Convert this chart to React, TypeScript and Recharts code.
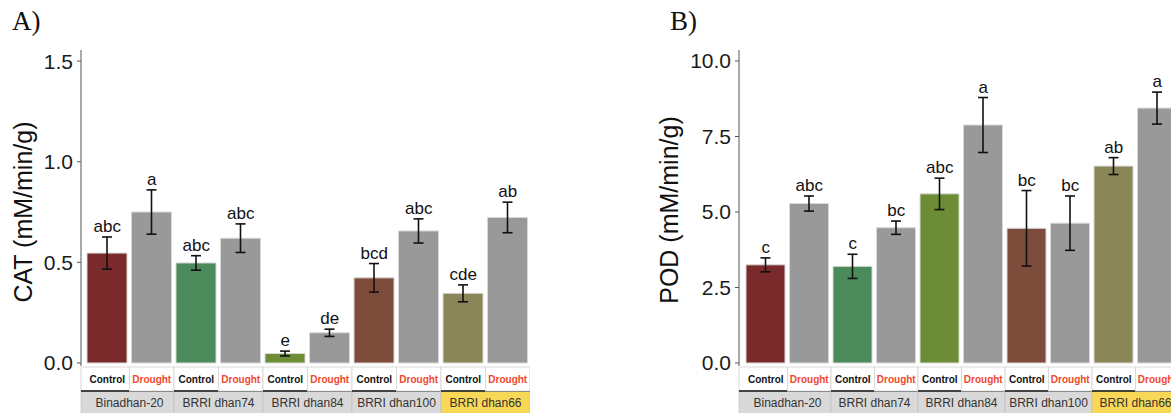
import React from 'react';
import { ComposedChart, Bar, Cell, ErrorBar, Line, LabelList, XAxis, YAxis } from 'recharts';

const genotypes = ['Binadhan-20', 'BRRI dhan74', 'BRRI dhan84', 'BRRI dhan100', 'BRRI dhan66'];
const treatments = ['Control', 'Drought'];

const catMean = [0.546, 0.75, 0.497, 0.62, 0.047, 0.15, 0.423, 0.656, 0.346, 0.723];
const catErr = [0.08, 0.11, 0.036, 0.071, 0.012, 0.018, 0.071, 0.06, 0.042, 0.076];
const catLetters = ['abc', 'a', 'abc', 'abc', 'e', 'de', 'bcd', 'abc', 'cde', 'ab'];

const podMean = [3.25, 5.28, 3.2, 4.48, 5.6, 7.88, 4.46, 4.63, 6.52, 8.44];
const podErr = [0.23, 0.25, 0.4, 0.22, 0.52, 0.91, 1.25, 0.9, 0.28, 0.53];
const podLetters = ['c', 'abc', 'c', 'bc', 'abc', 'a', 'bc', 'bc', 'ab', 'a'];

const catTicks = [0, 0.5, 1, 1.5];
const podTicks = [0, 2.5, 5, 7.5, 10];

const controlColors = ['#7a2a2a', '#4a8a5b', '#6c8d35', '#7e4c3a', '#8a8657'];
const droughtColor = '#999999';

const SANS = '"Liberation Sans", Arial, Helvetica, sans-serif';
const SERIF = '"Liberation Serif", "Times New Roman", serif';

const buildRows = (mean: number[], err: number[], letters: string[]) =>
  genotypes.flatMap((g, gi) =>
    treatments.map((t, ti) => {
      const i = gi * 2 + ti;
      return { key: `${g}-${t}`, genotype: g, treatment: t, mean: mean[i], err: err[i], top: mean[i] + err[i], letter: letters[i] };
    })
  );

const catRows = buildRows(catMean, catErr, catLetters);
const podRows = buildRows(podMean, podErr, podLetters);

const StripTick = (props: any) => {
  const { x, y, index, band, padL } = props;
  const left = x - band / 2 - (index === 0 ? padL : 0);
  const w = band + (index === 0 ? padL : 0);
  const t = treatments[index % 2];
  const g = genotypes[Math.floor(index / 2)];
  return (
    <g>
      <rect x={left} y={y + 1} width={w} height={24} fill="#ffffff" stroke="#d9d9d9" strokeWidth={1} />
      <text x={x} y={y + 17} textAnchor="middle" fontFamily={SANS} fontSize={10} fontWeight="bold" fill={t === 'Control' ? '#111111' : '#f0482e'}>
        {t}
      </text>
      {index % 2 === 0 && (
        <g>
          <rect x={left} y={y + 25} width={w + band} height={30} fill={g === 'BRRI dhan66' ? '#f8d856' : '#d9d9d9'} stroke="#bdbdbd" strokeWidth={0.6} />
          <line x1={left} x2={left + w + band} y1={y + 25} y2={y + 25} stroke="#111111" strokeWidth={1.3} />
          <text x={x + band / 2} y={y + 41} textAnchor="middle" fontFamily={SANS} fontSize={12} fill="#333333">
            {g}
          </text>
        </g>
      )}
    </g>
  );
};

interface PanelProps {
  rows: any[];
  domain: [number, number];
  ticks: number[];
  width: number;
  left: number;
  padL: number;
  barSize: number;
}

const Panel: React.FC<PanelProps> = ({ rows, domain, ticks, width, left, padL, barSize }) => {
  const yAxisW = 81;
  const band = (width - yAxisW - padL) / rows.length;
  return (
    <div style={{ position: 'absolute', left, top: 0 }}>
      <ComposedChart width={width} height={413} data={rows} margin={{ top: 50, right: 0, left: 0, bottom: 0 }}>
        <XAxis
          dataKey="key"
          interval={0}
          height={47}
          tickLine={false}
          axisLine={false}
          tickSize={0}
          tickMargin={0}
          padding={{ left: padL, right: 0 }}
          tick={<StripTick band={band} padL={padL} />}
        />
        <YAxis
          type="number"
          width={yAxisW}
          domain={domain}
          ticks={ticks}
          interval={0}
          allowDataOverflow
          tickSize={4}
          tickMargin={4}
          stroke="#555555"
          tick={{ fill: '#1a1a1a', fontSize: 21, fontFamily: SANS }}
          tickFormatter={(v: number) => v.toFixed(1)}
        />
        <Bar dataKey="mean" barSize={barSize} stroke="#d8d8d8" strokeWidth={1} isAnimationActive={false}>
          {rows.map((r, i) => (
            <Cell key={r.key} fill={i % 2 === 0 ? controlColors[Math.floor(i / 2)] : droughtColor} />
          ))}
          <ErrorBar dataKey="err" width={5} stroke="#111111" strokeWidth={1.6} />
        </Bar>
        <Line dataKey="top" stroke="none" dot={false} activeDot={false} isAnimationActive={false}>
          <LabelList dataKey="letter" position="top" offset={5} fill="#111111" fontSize={17} fontFamily={SANS} />
        </Line>
      </ComposedChart>
    </div>
  );
};

const AxisTitle = ({ text, cx, cy }: { text: string; cx: number; cy: number }) => (
  <div
    style={{
      position: 'absolute',
      left: cx,
      top: cy,
      transform: 'translate(-50%, -50%) rotate(-90deg)',
      whiteSpace: 'nowrap',
      fontFamily: SANS,
      fontSize: 25,
      color: '#111111',
      lineHeight: 1,
    }}
  >
    {text}
  </div>
);

const PanelTag = ({ text, x }: { text: string; x: number }) => (
  <div style={{ position: 'absolute', left: x, top: 8, fontFamily: SERIF, fontSize: 27, color: '#111111', lineHeight: 1 }}>{text}</div>
);

export default function App() {
  return (
    <div style={{ position: 'fixed', left: 0, top: 0, width: 1171, height: 413, overflow: 'hidden', background: '#ffffff' }}>
      <Panel rows={catRows} domain={[-0.015, 1.555]} ticks={catTicks} width={530} left={0} padL={4} barSize={40} />
      <Panel rows={podRows} domain={[-0.1, 10.364]} ticks={podTicks} width={521} left={658} padL={5} barSize={39} />
      <PanelTag text="A)" x={12} />
      <PanelTag text="B)" x={670} />
      <AxisTitle text="CAT (mM/min/g)" cx={23} cy={212} />
      <AxisTitle text="POD (mM/min/g)" cx={669} cy={210} />
    </div>
  );
}
